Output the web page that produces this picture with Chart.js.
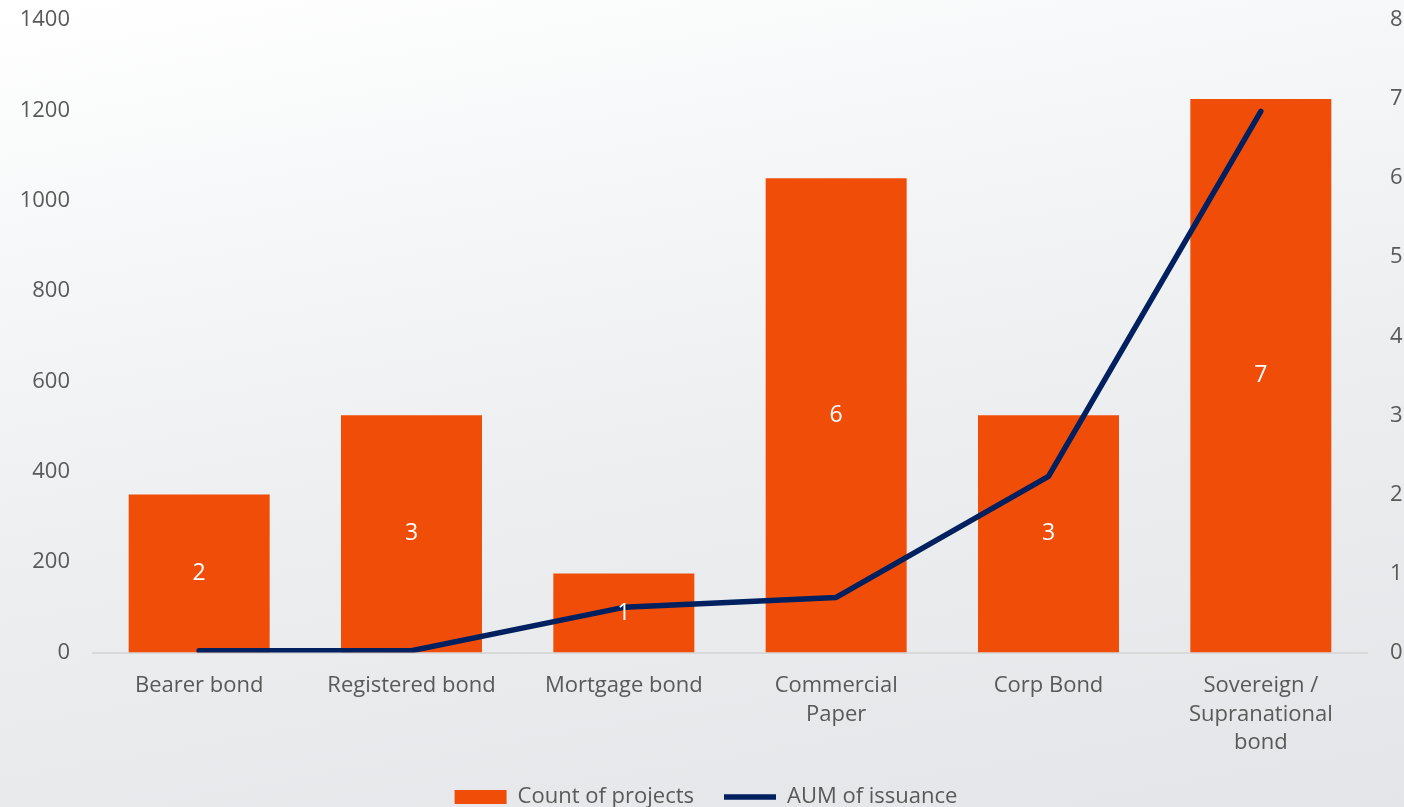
<!DOCTYPE html>
<html lang="en">
<head>
    <meta charset="UTF-8">
    <title>Bond issuance</title>
    <script src="https://cdn.jsdelivr.net/npm/chart.js"></script>
    <style>
        html, body {
            margin: 0;
            padding: 0;
            overflow: hidden;
        }

        #wrap {
            position: relative;
            width: 1412px;
            height: 807px;
            background: linear-gradient(170deg, #ffffff 0%, #f6f7f8 25%, #eceef0 55%, #e3e5e8 100%);
        }
    </style>
</head>
<body>
    <div id="wrap">
        <canvas id="bondChart"></canvas>
    </div>

    <script>
        // chart data
        const categories = [
            'Bearer bond',
            'Registered bond',
            'Mortgage bond',
            ['Commercial', 'Paper'],
            'Corp Bond',
            ['Sovereign /', 'Supranational', 'bond']
        ];
        const projectCounts = [2, 3, 1, 6, 3, 7];
        const aumIssuance = [4, 4, 100, 122, 390, 1198];
        const leftTicks = [0, 200, 400, 600, 800, 1000, 1200, 1400];
        const rightTicks = [0, 1, 2, 3, 4, 5, 6, 7, 8];

        const orange = '#f04e08';
        const navy = '#002060';
        const textGrey = '#595959';
        const fontFamily = '"Open Sans", "Noto Sans", sans-serif';

        // white count labels in the middle of each bar
        const barLabels = {
            id: 'barLabels',
            afterDatasetsDraw(chart) {
                const ctx = chart.ctx;
                const meta = chart.getDatasetMeta(0);
                ctx.save();
                ctx.fillStyle = '#ffffff';
                ctx.font = '23px ' + fontFamily;
                ctx.textAlign = 'center';
                ctx.textBaseline = 'middle';
                meta.data.forEach((bar, i) => {
                    ctx.fillText(projectCounts[i], bar.x, (bar.y + bar.base) / 2);
                });
                ctx.restore();
            }
        };

        // fixed axis width, and no extra room above/below for the tick labels
        function fitAxis(width) {
            return function (scale) {
                scale.width = width;
                scale.paddingTop = 0;
                scale.paddingBottom = 0;
            };
        }

        const ctx = document.getElementById('bondChart').getContext('2d');
        new Chart(ctx, {
            type: 'bar',
            data: {
                labels: categories,
                datasets: [{
                    type: 'bar',
                    label: 'Count of projects',
                    data: projectCounts,
                    backgroundColor: orange,
                    borderWidth: 0,
                    yAxisID: 'yRight',
                    categoryPercentage: 1,
                    barPercentage: 0.664,
                    pointStyle: 'rect',
                    order: 2
                }, {
                    type: 'line',
                    label: 'AUM of issuance',
                    data: aumIssuance,
                    borderColor: navy,
                    backgroundColor: navy,
                    borderWidth: 5.5,
                    borderCapStyle: 'round',
                    borderJoinStyle: 'round',
                    pointRadius: 0,
                    pointHoverRadius: 0,
                    tension: 0,
                    yAxisID: 'yLeft',
                    pointStyle: 'line',
                    order: 1
                }]
            },
            options: {
                responsive: true,
                maintainAspectRatio: false,
                animation: false,
                layout: {
                    padding: { top: 20, left: 0, right: 0, bottom: -11 }
                },
                scales: {
                    x: {
                        grid: { display: false, drawTicks: false },
                        border: { color: '#d9d9d9', width: 2 },
                        ticks: {
                            color: textGrey,
                            font: { family: fontFamily, size: 22, lineHeight: 1.3 },
                            padding: 19,
                            maxRotation: 0,
                            autoSkip: false
                        },
                        afterFit(scale) { scale.height = 103.5; }
                    },
                    yLeft: {
                        position: 'left',
                        min: 0,
                        max: 1400,
                        afterBuildTicks(scale) { scale.ticks = leftTicks.map(v => ({ value: v })); },
                        grid: { display: false, drawTicks: false },
                        border: { display: false },
                        ticks: {
                            color: textGrey,
                            font: { family: fontFamily, size: 22 },
                            padding: 23,
                            callback: (v) => String(v)
                        },
                        afterFit: fitAxis(93)
                    },
                    yRight: {
                        position: 'right',
                        min: 0,
                        max: 8,
                        afterBuildTicks(scale) { scale.ticks = rightTicks.map(v => ({ value: v })); },
                        grid: { display: false, drawTicks: false },
                        border: { display: false },
                        ticks: {
                            color: textGrey,
                            font: { family: fontFamily, size: 22 },
                            padding: 23,
                            callback: (v) => String(v)
                        },
                        afterFit: fitAxis(45)
                    }
                },
                plugins: {
                    tooltip: { enabled: false },
                    legend: {
                        position: 'bottom',
                        labels: {
                            usePointStyle: true,
                            pointStyleWidth: 52,
                            boxHeight: 14,
                            padding: 30,
                            color: textGrey,
                            font: { family: fontFamily, size: 22 },
                            sort: (a, b) => a.datasetIndex - b.datasetIndex
                        }
                    }
                }
            },
            plugins: [barLabels]
        });
    </script>
</body>
</html>
